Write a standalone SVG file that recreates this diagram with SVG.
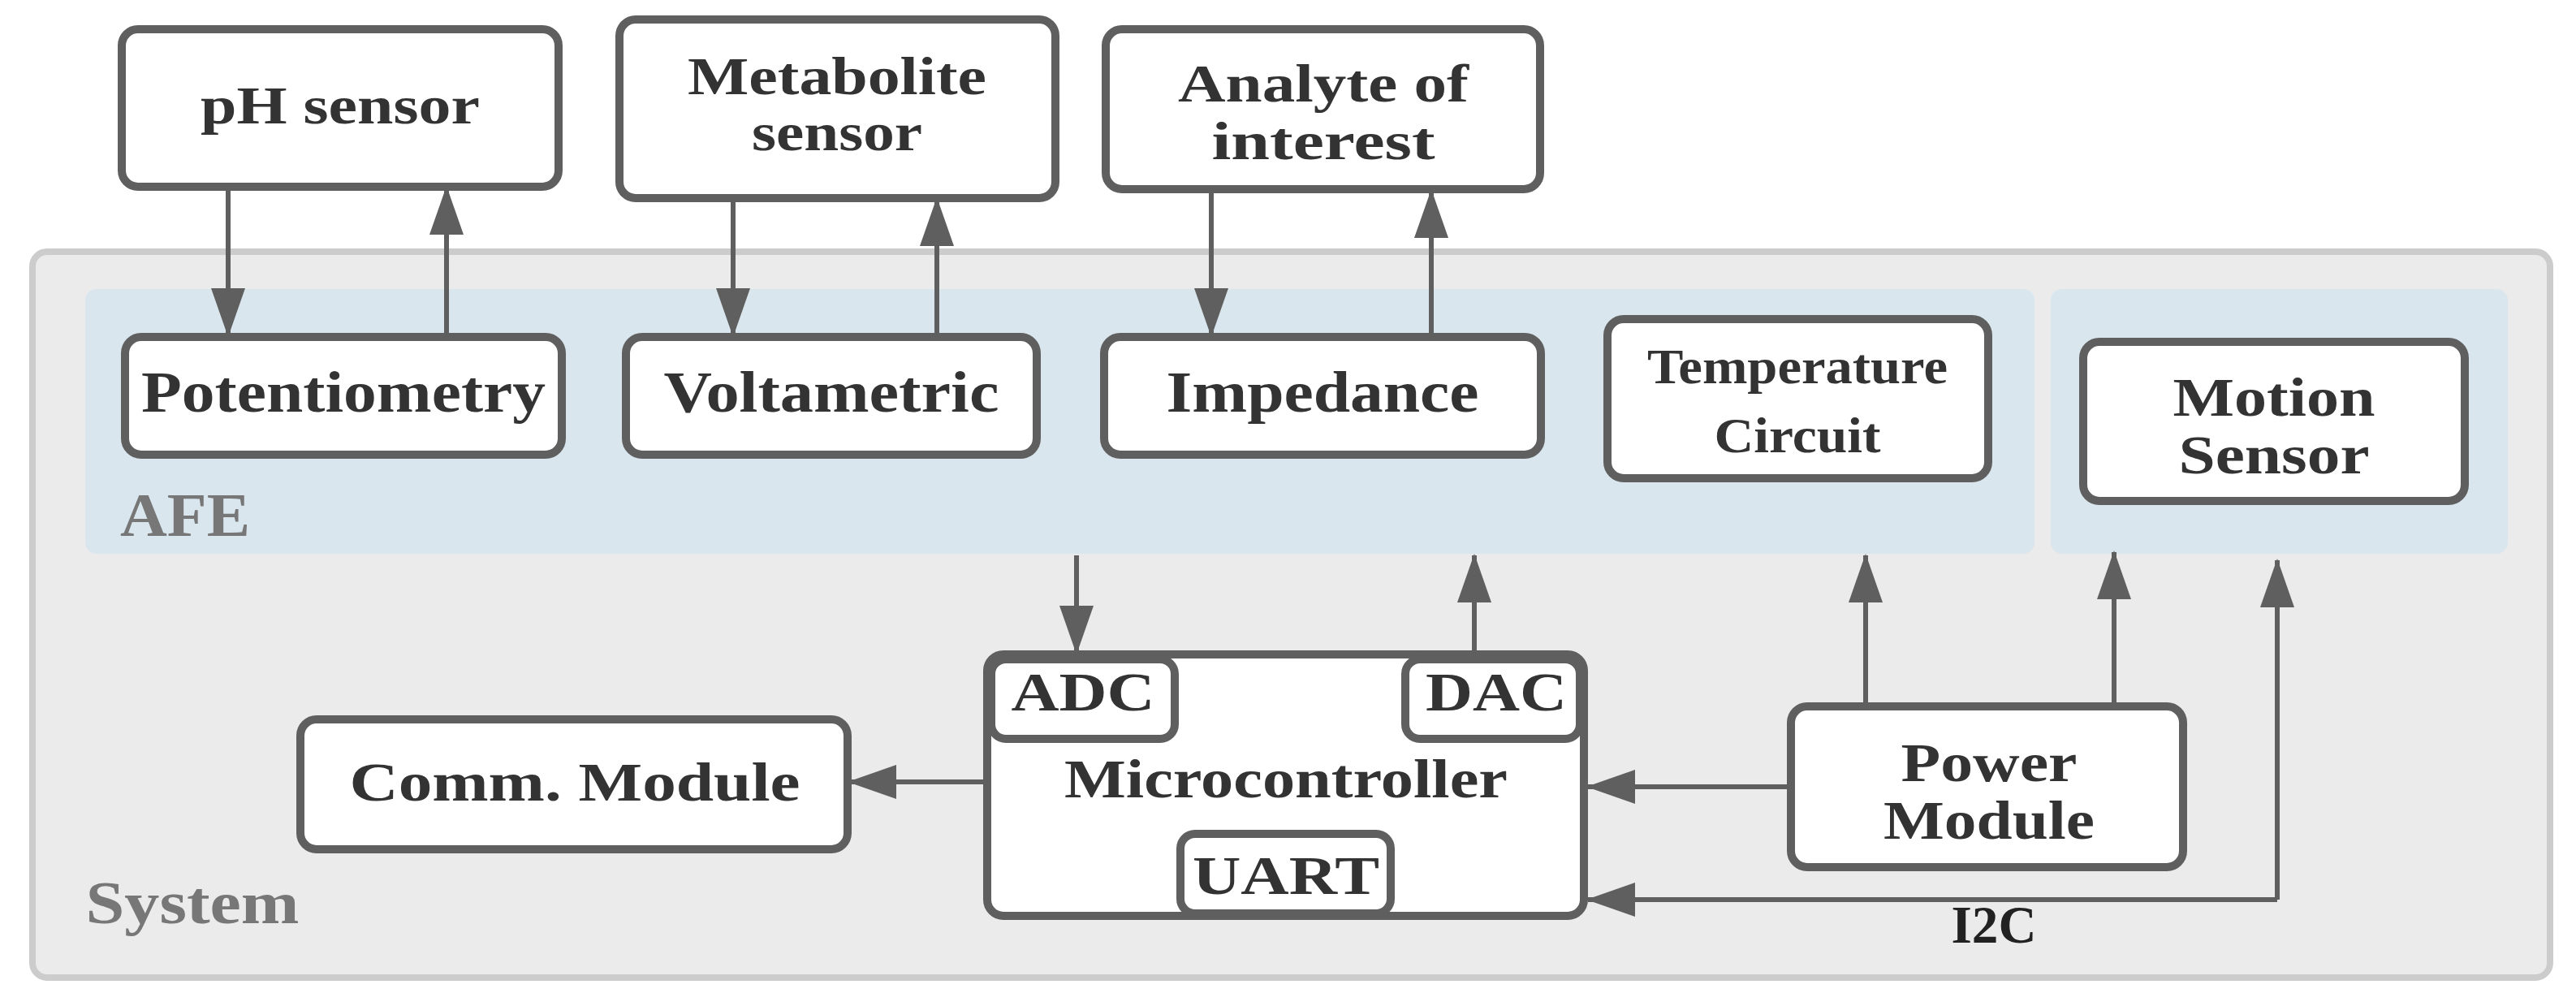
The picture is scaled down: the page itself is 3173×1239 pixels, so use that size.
<svg xmlns="http://www.w3.org/2000/svg" width="3173" height="1239" viewBox="0 0 3173 1239">
<style>
.b{fill:#fff;stroke:#5f5f5f;stroke-width:10}
.t{font-family:"Liberation Serif",serif;font-weight:bold;fill:#333;text-anchor:middle}
.c{stroke:#5f5f5f;stroke-width:6;fill:none}
</style>
<defs>
<marker id="a" markerUnits="userSpaceOnUse" markerWidth="60" markerHeight="44" refX="58" refY="21" orient="auto" viewBox="0 0 60 42"><path d="M0,0L60,21L0,42Z" fill="#5f5f5f"/></marker>
</defs>
<rect x="40" y="310" width="3101" height="894" rx="18" fill="#ebebeb" stroke="#cccccc" stroke-width="8"/>
<rect x="105" y="356" width="2401" height="326" rx="14" fill="#d9e6ee"/>
<rect x="2526" y="356" width="563" height="326" rx="14" fill="#d9e6ee"/>
<text class="t" x="228" y="660" font-size="76" style="fill:#777" textLength="160" lengthAdjust="spacingAndGlyphs">AFE</text>
<text class="t" x="237" y="1137" font-size="74" style="fill:#777" textLength="263" lengthAdjust="spacingAndGlyphs">System</text>
<g id="connectors">
<path class="c" d="M281,229V413" marker-end="url(#a)"/>
<path class="c" d="M550,413V231" marker-end="url(#a)"/>
<path class="c" d="M903,243V413" marker-end="url(#a)"/>
<path class="c" d="M1154,413V245" marker-end="url(#a)"/>
<path class="c" d="M1492,233V413" marker-end="url(#a)"/>
<path class="c" d="M1763,413V235" marker-end="url(#a)"/>
<path class="c" d="M1326,684V804" marker-end="url(#a)"/>
<path class="c" d="M1816,804V684" marker-end="url(#a)"/>
<path class="c" d="M2298,868V684" marker-end="url(#a)"/>
<path class="c" d="M2604,868V680" marker-end="url(#a)"/>
<path class="c" d="M2206,969H1956" marker-end="url(#a)"/>
<path class="c" d="M1214,963H1046" marker-end="url(#a)"/>
<path class="c" d="M2805,1108H1956" marker-end="url(#a)"/>
<path class="c" d="M2805,1108V690" marker-end="url(#a)"/>
<text class="t" x="2456" y="1161" font-size="66" style="fill:#222" textLength="105" lengthAdjust="spacingAndGlyphs">I2C</text>
</g>
<g id="ph"><rect class="b" x="150" y="36" width="538" height="194" rx="20"/><text class="t" x="419" y="152" font-size="66" textLength="344" lengthAdjust="spacingAndGlyphs">pH sensor</text></g>
<g id="metabolite"><rect class="b" x="763" y="24" width="537" height="220" rx="20"/><text class="t" x="1031" y="116" font-size="66" textLength="368" lengthAdjust="spacingAndGlyphs">Metabolite</text><text class="t" x="1031" y="185" font-size="66" textLength="210" lengthAdjust="spacingAndGlyphs">sensor</text></g>
<g id="analyte"><rect class="b" x="1362" y="36" width="535" height="197" rx="20"/><text class="t" x="1630" y="125" font-size="66" textLength="358" lengthAdjust="spacingAndGlyphs">Analyte of</text><text class="t" x="1630" y="196" font-size="66" textLength="275" lengthAdjust="spacingAndGlyphs">interest</text></g>
<g id="potentiometry"><rect class="b" x="154" y="415" width="538" height="145" rx="20"/><text class="t" x="423" y="507" font-size="72" textLength="498" lengthAdjust="spacingAndGlyphs">Potentiometry</text></g>
<g id="voltametric"><rect class="b" x="771" y="415" width="506" height="145" rx="20"/><text class="t" x="1024" y="507" font-size="72" textLength="413" lengthAdjust="spacingAndGlyphs">Voltametric</text></g>
<g id="impedance"><rect class="b" x="1360" y="415" width="538" height="145" rx="20"/><text class="t" x="1629" y="507" font-size="72" textLength="385" lengthAdjust="spacingAndGlyphs">Impedance</text></g>
<g id="temperature"><rect class="b" x="1980" y="393" width="469" height="196" rx="20"/><text class="t" x="2214" y="472" font-size="62" textLength="370" lengthAdjust="spacingAndGlyphs">Temperature</text><text class="t" x="2214" y="557" font-size="62" textLength="205" lengthAdjust="spacingAndGlyphs">Circuit</text></g>
<g id="motion"><rect class="b" x="2566" y="421" width="470" height="196" rx="20"/><text class="t" x="2801" y="512" font-size="68" textLength="249" lengthAdjust="spacingAndGlyphs">Motion</text><text class="t" x="2801" y="583" font-size="68" textLength="235" lengthAdjust="spacingAndGlyphs">Sensor</text></g>
<g id="microcontroller"><rect class="b" x="1216" y="806" width="735" height="322" rx="20"/><text class="t" x="1584" y="982" font-size="68" textLength="546" lengthAdjust="spacingAndGlyphs">Microcontroller</text></g>
<g id="adc"><rect class="b" x="1221" y="812" width="226" height="98" rx="18"/><text class="t" x="1334" y="875" font-size="68" textLength="177" lengthAdjust="spacingAndGlyphs">ADC</text></g>
<g id="dac"><rect class="b" x="1731" y="812" width="215" height="98" rx="18"/><text class="t" x="1843" y="875" font-size="68" textLength="174" lengthAdjust="spacingAndGlyphs">DAC</text></g>
<g id="uart"><rect class="b" x="1454" y="1027" width="259" height="98" rx="18"/><text class="t" x="1584" y="1101" font-size="68" textLength="230" lengthAdjust="spacingAndGlyphs">UART</text></g>
<g id="power"><rect class="b" x="2206" y="870" width="483" height="198" rx="20"/><text class="t" x="2450" y="962" font-size="68" textLength="217" lengthAdjust="spacingAndGlyphs">Power</text><text class="t" x="2450" y="1033" font-size="68" textLength="260" lengthAdjust="spacingAndGlyphs">Module</text></g>
<g id="comm"><rect class="b" x="370" y="886" width="674" height="160" rx="20"/><text class="t" x="708" y="986" font-size="68" textLength="555" lengthAdjust="spacingAndGlyphs">Comm. Module</text></g>
</svg>
